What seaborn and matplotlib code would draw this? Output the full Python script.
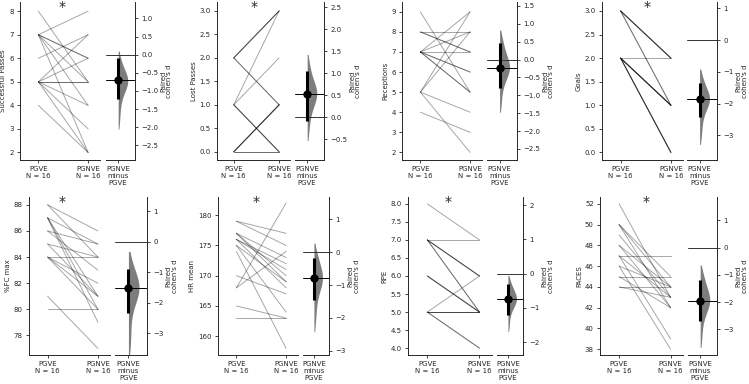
import pandas as pd
import matplotlib
matplotlib.use('Agg')
import matplotlib.pyplot as plt
import matplotlib.transforms as mtransforms
from matplotlib.ticker import MultipleLocator
import seaborn as sns

sns.set_theme(style='ticks')
plt.rcParams['font.family'] = ['DejaVu Sans']

# ---------------- data ----------------
metrics = ['Successful Passes', 'Lost Passes', 'Receptions', 'Goals',
           '%FC max', 'HR mean', 'RPE', 'PACES']

succ_pgve  = [8, 7, 7, 7, 7, 7, 7, 6, 5, 5, 5, 5, 5, 5, 5, 4]
succ_pgnve = [5, 8, 6, 6, 5, 4, 2, 7, 7, 6, 5, 5, 4, 3, 2, 2]

lost_pgve  = [2, 2, 2, 2, 2, 1, 1, 1, 1, 1, 0, 0, 0, 0, 0, 0]
lost_pgnve = [3, 3, 3, 1, 1, 3, 2, 0, 0, 0, 1, 1, 1, 1, 0, 0]

rec_pgve  = [9, 8, 8, 8, 7, 7, 7, 7, 7, 7, 7, 5, 5, 5, 5, 4]
rec_pgnve = [5, 8, 7, 7, 9, 8, 7, 6, 6, 5, 5, 9, 8, 4, 2, 3]

goals_pgve  = [3, 3, 3, 3, 3, 3, 2, 2, 2, 2, 2, 2, 2, 2, 2, 2]
goals_pgnve = [2, 2, 2, 2, 1, 1, 2, 1, 1, 1, 1, 1, 0, 0, 0, 0]

fc_pgve  = [88, 88, 87, 87, 87, 87, 86, 86, 85, 85, 84, 84, 84, 84, 81, 80]
fc_pgnve = [86, 84, 85, 81, 80, 79, 85, 83, 84, 81, 84, 82, 81, 80, 77, 80]

hr_pgve  = [179, 179, 177, 177, 177, 176, 176, 176, 175, 175, 174, 170, 168, 168, 165, 163]
hr_pgnve = [177, 175, 173, 170, 169, 172, 171, 168, 169, 164, 158, 167, 182, 174, 163, 163]

rpe_pgve  = [8, 7, 7, 7, 7, 7, 7, 6, 6, 6, 5, 5, 5, 5, 5, 5]
rpe_pgnve = [7, 7, 6, 6, 6, 5, 5, 5, 5, 5, 6, 5, 5, 5, 4, 4]

paces_pgve  = [52, 50, 50, 50, 49, 48, 48, 47, 47, 47, 46, 46, 45, 45, 44, 44]
paces_pgnve = [43, 45, 42, 44, 43, 44, 42, 47, 43, 39, 44, 38, 45, 42, 44, 43]

pgve_values = [succ_pgve, lost_pgve, rec_pgve, goals_pgve, fc_pgve, hr_pgve, rpe_pgve, paces_pgve]
pgnve_values = [succ_pgnve, lost_pgnve, rec_pgnve, goals_pgnve, fc_pgnve, hr_pgnve, rpe_pgnve, paces_pgnve]

# paired cohen's d and its 95% CI
cohens_d = [-0.71, 0.54, -0.23, -1.86, -1.53, -0.78, -0.74, -1.94]
ci_low   = [-1.21, -0.09, -0.80, -2.43, -2.32, -1.45, -1.20, -2.70]
ci_high  = [-0.09, 1.05, 0.46, -1.34, -0.90, -0.19, -0.31, -1.20]

# hand-read bootstrap values that give the half-violin shapes
boot_succ  = [-0.15, -0.35, -0.5, -0.6, -0.65, -0.7, -0.72, -0.75, -0.8, -0.9, -1.0, -1.15, -1.4, -1.8]
boot_lost  = [1.2, 0.95, 0.8, 0.7, 0.6, 0.56, 0.54, 0.5, 0.45, 0.35, 0.2, 0.05, -0.3]
boot_rec   = [0.55, 0.35, 0.15, 0.0, -0.1, -0.18, -0.22, -0.25, -0.3, -0.4, -0.55, -0.75, -1.2]
boot_goals = [-1.2, -1.4, -1.6, -1.7, -1.8, -1.85, -1.87, -1.9, -2.0, -2.1, -2.3, -2.6, -3.0]
boot_fc    = [-0.75, -0.95, -1.15, -1.3, -1.45, -1.5, -1.53, -1.58, -1.65, -1.8, -2.0, -2.3, -2.9, -3.4]
boot_hr    = [-0.05, -0.25, -0.4, -0.55, -0.68, -0.75, -0.78, -0.82, -0.9, -1.0, -1.15, -1.35, -1.7, -2.1]
boot_rpe   = [-0.25, -0.4, -0.5, -0.6, -0.68, -0.72, -0.74, -0.77, -0.82, -0.9, -1.0, -1.15, -1.5]
boot_paces = [-1.0, -1.25, -1.45, -1.65, -1.8, -1.9, -1.94, -1.98, -2.05, -2.2, -2.4, -2.7, -3.3]
boot_values = [boot_succ, boot_lost, boot_rec, boot_goals, boot_fc, boot_hr, boot_rpe, boot_paces]

significant = [True, True, False, True, True, True, True, True]

# ---------------- layout ----------------
W, H = 749, 384
paired_x = [(20, 100), (217, 290), (402, 482), (602, 683),
            (29, 110), (218, 298), (408, 492), (600, 683)]
contrast_x = [(106, 135), (295, 324), (487, 517), (687, 717),
              (115, 147), (303, 329), (497, 523), (688, 717)]
row_y = [(2, 160), (197, 355)]
raw_ylim = [(1.68, 8.39), (-0.175, 3.19), (1.62, 9.49), (-0.16, 3.19),
            (76.5, 88.6), (156.9, 183.0), (3.81, 8.19), (37.45, 52.65)]
raw_step = [1, 0.5, 1, 0.5, 2, 5, 0.5, 2]
d_ylim = [(-2.9, 1.45), (-0.97, 2.62), (-2.81, 1.61), (-3.78, 1.2),
          (-3.71, 1.46), (-3.13, 1.68), (-2.38, 2.24), (-3.94, 1.86)]
d_step = [0.5, 0.5, 0.5, 1, 1, 1, 1, 1]
star_x = [0.48, 0.45, None, 0.52, 0.28, 0.4, 0.4, 0.52]

fs = 5
fig = plt.figure(figsize=(W / 100, H / 100), dpi=100)


def px_axes(x0, x1, yt, yb):
    return fig.add_axes([x0 / W, 1 - yb / H, (x1 - x0) / W, (yb - yt) / H])


for i in range(8):
    yt, yb = row_y[i // 4]

    # ---- raw paired data ----
    ax = px_axes(*paired_x[i], yt, yb)
    n = len(pgve_values[i])
    df = pd.DataFrame({
        'id': list(range(n)) * 2,
        'group': [0] * n + [1] * n,
        'value': pgve_values[i] + pgnve_values[i],
    })
    sns.lineplot(data=df, x='group', y='value', units='id', estimator=None,
                 color='black', alpha=0.35, linewidth=0.7, ax=ax)
    ax.set_xlim(-0.37, 1.24)
    ax.set_ylim(*raw_ylim[i])
    ax.yaxis.set_major_locator(MultipleLocator(raw_step[i]))
    ax.set_xticks([0, 1])
    ax.set_xticklabels(['PGVE\nN = 16', 'PGNVE\nN = 16'])
    ax.set_xlabel('')
    ax.set_ylabel(metrics[i], fontsize=fs, labelpad=2)
    ax.tick_params(labelsize=fs, length=2.5, width=0.6, pad=2)
    sns.despine(ax=ax)
    for s in ax.spines.values():
        s.set_linewidth(0.7)
    if significant[i]:
        tr = mtransforms.blended_transform_factory(ax.transData, ax.transAxes)
        ax.text(star_x[i], 0.945, '*', transform=tr, ha='center', va='baseline',
                fontsize=10, clip_on=False)

    # ---- effect size axes ----
    cax = px_axes(*contrast_x[i], yt, yb)
    sns.kdeplot(y=boot_values[i], ax=cax, fill=True, color='0.4', alpha=0.85,
                linewidth=0, cut=1)
    verts = cax.collections[-1].get_paths()[0].vertices
    width = verts[:, 0].max() / 0.33
    cax.set_xlim(-0.42 * width, 0.58 * width)
    cax.axhline(0, color='0.2', linewidth=0.7)
    cax.axhline(cohens_d[i], color='black', linewidth=0.7)
    cax.vlines(0, ci_low[i], ci_high[i], color='black', linewidth=2.2, zorder=4)
    cax.plot(0, cohens_d[i], 'o', color='black', markersize=5, zorder=5)
    cax.set_ylim(*d_ylim[i])
    cax.yaxis.set_major_locator(MultipleLocator(d_step[i]))
    cax.yaxis.tick_right()
    cax.yaxis.set_label_position('right')
    cax.set_xticks([0])
    cax.set_xticklabels(['PGNVE\nminus\nPGVE'])
    cax.set_xlabel('')
    cax.set_ylabel("Paired\ncohen's d", fontsize=fs, labelpad=1.5,
                   linespacing=1.0)
    cax.tick_params(labelsize=fs, length=2.5, width=0.6, pad=2)
    cax.spines['left'].set_visible(False)
    cax.spines['top'].set_visible(False)
    cax.spines['right'].set_linewidth(0.7)
    cax.spines['bottom'].set_linewidth(0.7)

fig.savefig('out.png', dpi=100)
